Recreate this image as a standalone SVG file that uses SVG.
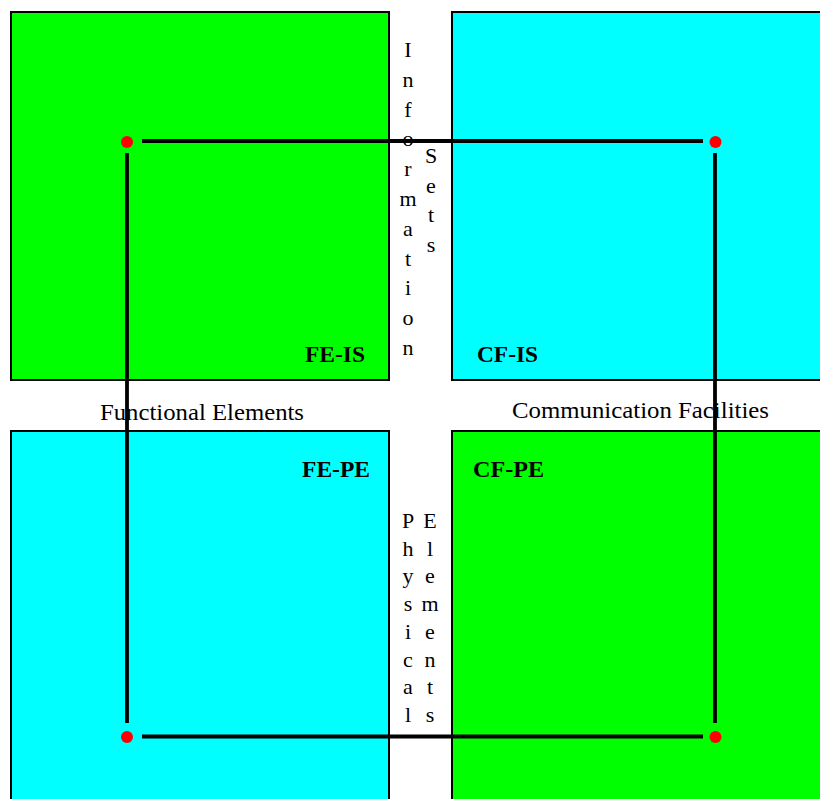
<svg xmlns="http://www.w3.org/2000/svg" width="820" height="799" viewBox="0 0 820 799">
<style>
.box{stroke:#000;stroke-width:2}
.green{fill:#00ff00}
.cyan{fill:#00ffff}
.lbl{font-family:"Liberation Serif","Times New Roman",serif;font-weight:bold;font-size:23.5px;fill:#000}
.txt{font-family:"Liberation Serif","Times New Roman",serif;font-size:24px;fill:#000}
.vt{font-family:"Liberation Serif","Times New Roman",serif;font-size:22px;fill:#000;text-anchor:middle}
.conn{stroke:#000;stroke-width:3.8;fill:none}
.dot{fill:#ff0000}
</style>
<rect width="820" height="799" fill="#fff"/>
<g id="FE-IS">
<rect class="box green" x="11" y="12" width="378" height="368"/>
<text class="lbl" x="305" y="362" textLength="60" lengthAdjust="spacingAndGlyphs">FE-IS</text>
</g>
<g id="CF-IS">
<rect class="box cyan" x="452" y="12" width="400" height="368"/>
<text class="lbl" x="477" y="362" textLength="61" lengthAdjust="spacingAndGlyphs">CF-IS</text>
</g>
<g id="FE-PE">
<rect class="box cyan" x="11" y="431" width="378" height="400"/>
<text class="lbl" x="302" y="477" textLength="68" lengthAdjust="spacingAndGlyphs">FE-PE</text>
</g>
<g id="CF-PE">
<rect class="box green" x="452" y="431" width="400" height="400"/>
<text class="lbl" x="473" y="477" textLength="71" lengthAdjust="spacingAndGlyphs">CF-PE</text>
</g>
<g id="axis-labels">
<text class="vt" x="408" y="57">I<tspan x="408" dy="29.8">n</tspan><tspan x="408" dy="29.8">f</tspan><tspan x="408" dy="29.8">o</tspan><tspan x="408" dy="29.8">r</tspan><tspan x="408" dy="29.8">m</tspan><tspan x="408" dy="29.8">a</tspan><tspan x="408" dy="29.8">t</tspan><tspan x="408" dy="29.8">i</tspan><tspan x="408" dy="29.8">o</tspan><tspan x="408" dy="29.8">n</tspan></text>
<text class="vt" x="431" y="163">S<tspan x="431" dy="29.7">e</tspan><tspan x="431" dy="29.7">t</tspan><tspan x="431" dy="29.7">s</tspan></text>
<text class="vt" x="408" y="528">P<tspan x="408" dy="27.7">h</tspan><tspan x="408" dy="27.7">y</tspan><tspan x="408" dy="27.7">s</tspan><tspan x="408" dy="27.7">i</tspan><tspan x="408" dy="27.7">c</tspan><tspan x="408" dy="27.7">a</tspan><tspan x="408" dy="27.7">l</tspan></text>
<text class="vt" x="430" y="528">E<tspan x="430" dy="27.7">l</tspan><tspan x="430" dy="27.7">e</tspan><tspan x="430" dy="27.7">m</tspan><tspan x="430" dy="27.7">e</tspan><tspan x="430" dy="27.7">n</tspan><tspan x="430" dy="27.7">t</tspan><tspan x="430" dy="27.7">s</tspan></text>
<text class="txt" x="100" y="420" textLength="204" lengthAdjust="spacingAndGlyphs">Functional Elements</text>
<text class="txt" x="512" y="418" textLength="257" lengthAdjust="spacingAndGlyphs">Communication Facilities</text>
</g>
<g id="connectors">
<line class="conn" x1="142" y1="141" x2="703" y2="141"/>
<line class="conn" x1="142" y1="736.5" x2="703" y2="736.5"/>
<line class="conn" x1="127" y1="153" x2="127" y2="723"/>
<line class="conn" x1="715" y1="153" x2="715" y2="723"/>
</g>
<g id="points">
<circle class="dot" cx="127" cy="142" r="6"/>
<circle class="dot" cx="715.5" cy="142" r="6"/>
<circle class="dot" cx="127" cy="737" r="6"/>
<circle class="dot" cx="715.5" cy="737" r="6"/>
</g>
</svg>
